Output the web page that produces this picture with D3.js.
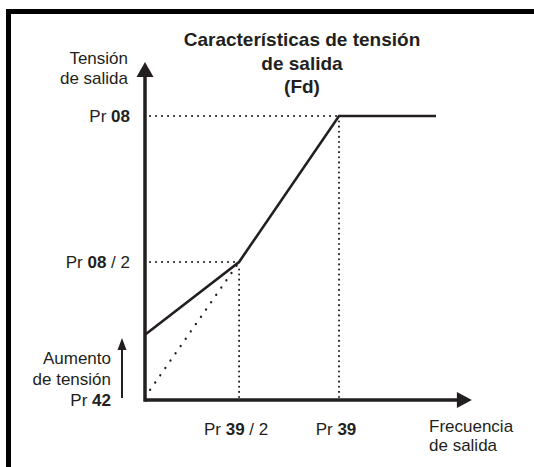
<!DOCTYPE html>
<html>
<head>
<meta charset="utf-8">
<script src="https://cdn.jsdelivr.net/npm/d3@7"></script>
<style>
  html, body { margin: 0; background: #fff; overflow: hidden; }
  svg { display: block; }
  text { font-family: "Liberation Sans", Arial, sans-serif; fill: #231f20; }
</style>
</head>
<body>
<div id="chart"></div>
<script>
// V/f characteristic (schematic)
// frequency in units of Pr 39, voltage in units of Pr 08
var curveFreq = [0, 0.485, 1, 1.5];
var curveVolt = [0.23, 0.486, 1, 1];
var dottedFreq = [0, 0.485];
var dottedVolt = [0.01, 0.486];
var yTickValues = [1, 0.486];
var yTickLabels = [["Pr ", "08", ""], ["Pr ", "08", " / 2"]];
var xTickValues = [0.485, 1];
var xTickLabels = [["Pr ", "39", " / 2"], ["Pr ", "39", ""]];
var titleLines = ["Características de tensión", "de salida", "(Fd)"];
var yTitle = ["Tensión", "de salida"];
var xTitle = ["Frecuencia", "de salida"];
var boostLabel = [["Aumento", ""], ["de tensión", ""], ["Pr ", "42"]];

var W = 534, H = 467;
var svg = d3.select("#chart").append("svg")
  .attr("width", W).attr("height", H);

svg.append("rect").attr("width", W).attr("height", H).attr("fill", "#fff");

// black frame (top + left only)
svg.append("rect").attr("x", 6).attr("y", 9).attr("width", W - 6).attr("height", 5).attr("fill", "#000");
svg.append("rect").attr("x", 6).attr("y", 9).attr("width", 5).attr("height", H - 9).attr("fill", "#000");

var x = d3.scaleLinear().domain([0, 1]).range([145, 339]);
var y = d3.scaleLinear().domain([0, 1]).range([400, 116]);
var xMax = 1.685, yMax = 1.19;
var ink = "#231f20";
var fs = 17;

// dotted guide lines
var dots = svg.append("g").attr("stroke", ink).attr("stroke-width", 2)
  .attr("stroke-linecap", "round").attr("fill", "none");
yTickValues.forEach(function(v, i){
  dots.append("line")
    .attr("x1", x(0) + 5).attr("x2", x(xTickValues[i === 0 ? 1 : 0]))
    .attr("y1", y(v)).attr("y2", y(v))
    .attr("stroke-dasharray", "0.1,5.9");
});
xTickValues.forEach(function(v, i){
  dots.append("line")
    .attr("x1", x(v)).attr("x2", x(v))
    .attr("y1", y(0) - 3).attr("y2", y(yTickValues[i === 0 ? 1 : 0]) + 5)
    .attr("stroke-dasharray", "0.1,5");
});
var dotLine = d3.line()
  .x(function(d){ return x(d[0]); })
  .y(function(d){ return y(d[1]); });
dots.append("path")
  .attr("d", dotLine(d3.zip(dottedFreq, dottedVolt)))
  .attr("stroke-width", 2.3)
  .attr("stroke-dasharray", "0.1,8.8");

// characteristic
svg.append("path")
  .attr("d", dotLine(d3.zip(curveFreq, curveVolt)))
  .attr("fill", "none").attr("stroke", ink).attr("stroke-width", 2.6);

// axes with arrows
svg.append("line").attr("x1", x(0)).attr("x2", x(xMax) - 12)
  .attr("y1", y(0)).attr("y2", y(0)).attr("stroke", ink).attr("stroke-width", 3.5);
svg.append("path")
  .attr("d", "M" + x(xMax) + "," + y(0) + "l-15,-8v16z").attr("fill", ink);
svg.append("line").attr("x1", x(0)).attr("x2", x(0))
  .attr("y1", y(0) + 1.75).attr("y2", y(yMax) + 12).attr("stroke", ink).attr("stroke-width", 3.5);
svg.append("path")
  .attr("d", "M" + x(0) + "," + y(yMax) + "l-8.5,15h17z").attr("fill", ink);

// boost arrow
svg.append("line").attr("x1", 122).attr("x2", 122).attr("y1", 398).attr("y2", 348)
  .attr("stroke", ink).attr("stroke-width", 2);
svg.append("path").attr("d", "M122,338l-4.5,12h9z").attr("fill", ink);

function richText(g, parts, xPos, yPos, anchor) {
  var t = g.append("text").attr("x", xPos).attr("y", yPos)
    .attr("text-anchor", anchor).attr("font-size", fs);
  parts.forEach(function(p, i){
    if (p) t.append("tspan").attr("font-weight", i === 1 ? "bold" : "normal").text(p);
  });
  return t;
}

// tick labels
yTickValues.forEach(function(v, i){
  richText(svg, yTickLabels[i], 130, y(v) + 6, "end");
});
xTickValues.forEach(function(v, i){
  richText(svg, xTickLabels[i], x(v) - 3, 435, "middle");
});

// titles
titleLines.forEach(function(s, i){
  svg.append("text").attr("x", 302).attr("y", 46 + i * 23.5)
    .attr("text-anchor", "middle").attr("font-size", 19).attr("font-weight", "bold").text(s);
});
yTitle.forEach(function(s, i){
  svg.append("text").attr("x", 128).attr("y", 64 + i * 19.5)
    .attr("text-anchor", "end").attr("font-size", fs).text(s);
});
xTitle.forEach(function(s, i){
  svg.append("text").attr("x", 429).attr("y", 432 + i * 18.5)
    .attr("text-anchor", "start").attr("font-size", fs).text(s);
});
boostLabel.forEach(function(p, i){
  richText(svg, p, 111, 364 + i * 21, "end");
});
</script>
</body>
</html>
